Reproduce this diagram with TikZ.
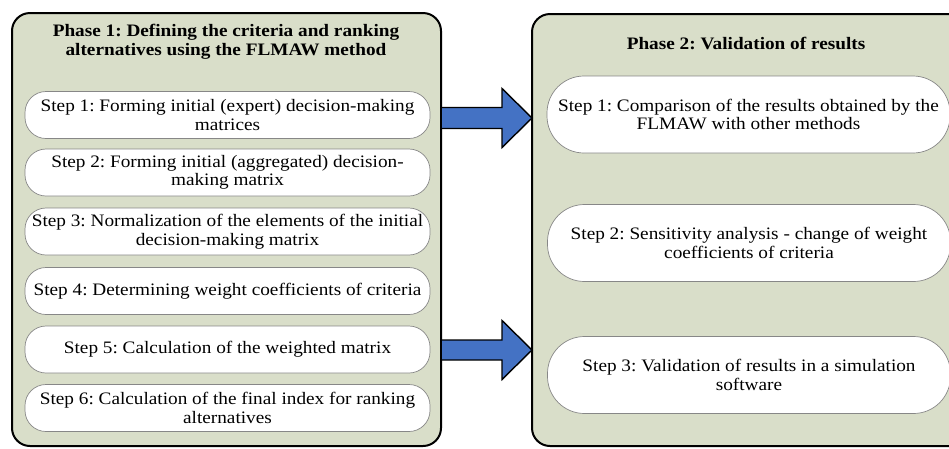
\documentclass[tikz,border=0pt]{standalone}
\usepackage{fontspec}
\setmainfont{Liberation Serif}[FakeStretch=1.1]
\frenchspacing
\usetikzlibrary{calc}
\definecolor{panelfill}{RGB}{217,222,201}
\definecolor{arrowblue}{RGB}{68,114,196}
\definecolor{boxline}{RGB}{135,135,135}
\tikzset{
  x=1pt, y=-1pt,
  panel/.style={draw=black, line width=2pt, fill=panelfill, rounded corners=18pt, inner sep=0pt},
  stepbase/.style={draw=boxline, line width=0.7pt, fill=white, align=center, inner sep=0pt,
    font=\fontsize{17.5}{18.5}\selectfont},
  lstep/.style={stepbase, rounded corners=21pt, minimum width=405pt, minimum height=47pt},
  rstep/.style={stepbase, rounded corners=37pt, minimum width=403pt, minimum height=77pt},
  ptitle/.style={font=\fontsize{17.5}{18.5}\selectfont\bfseries, align=center, inner sep=0pt},
  blockarrow/.style={draw=black, line width=1.4pt, fill=arrowblue, line join=miter}
}
\begin{document}
\begin{tikzpicture}
\useasboundingbox (0,0) rectangle (949,448);
\clip (0,0) rectangle (949,448);
% panels
\node[panel, minimum width=429pt, minimum height=433pt] (p1) at (226.5,229.5) {};
\node[panel, minimum width=448pt, minimum height=432pt] (p2) at (756,230) {};
% titles
\node[ptitle] (t1) at (226,42) {Phase 1: Defining the criteria and ranking\\alternatives using the FLMAW method};
\node[ptitle] (t2) at (746,43) {Phase 2: Validation of results};
% left steps
\node[lstep] (l1) at (227.5,115) {Step 1: Forming initial (expert) decision-making\\matrices};
\node[lstep] (l2) at (227.5,172.5) {Step 2: Forming initial (aggregated) decision-\\making matrix};
\node[lstep] (l3) at (227.5,231.5) {Step 3: Normalization of the elements of the initial\\decision-making matrix};
\node[lstep] (l4) at (227.5,291) {Step 4: Determining weight coefficients of criteria};
\node[lstep] (l5) at (227.5,349.5) {Step 5: Calculation of the weighted matrix};
\node[lstep] (l6) at (227.5,408) {Step 6: Calculation of the final index for ranking\\alternatives};
% right steps
\node[rstep] (r1) at (748.5,114.5) {Step 1: Comparison of the results obtained by the\\FLMAW with other methods};
\node[rstep] (r2) at (749,243) {Step 2: Sensitivity analysis - change of weight\\coefficients of criteria};
\node[rstep] (r3) at (749,375) {Step 3: Validation of results in a simulation\\software};
% arrows
\coordinate (a1s) at (p1.east |- 0,118);
\coordinate (a1t) at (p2.west |- 0,118);
\coordinate (a2s) at (p1.east |- 0,350);
\coordinate (a2t) at (p2.west |- 0,350);
\draw[blockarrow] ($(a1s)+(0,-10.5)$) -- ($(a1t)+(-29,-10.5)$) -- ($(a1t)+(-29,-29.5)$)
  -- ($(a1t)+(1,0)$) -- ($(a1t)+(-29,29.5)$) -- ($(a1t)+(-29,10.5)$) -- ($(a1s)+(0,10.5)$);
\draw[blockarrow] ($(a2s)+(0,-10)$) -- ($(a2t)+(-29,-10)$) -- ($(a2t)+(-29,-29.5)$)
  -- ($(a2t)+(1,0)$) -- ($(a2t)+(-29,29.5)$) -- ($(a2t)+(-29,10)$) -- ($(a2s)+(0,10)$);
\end{tikzpicture}
\end{document}
